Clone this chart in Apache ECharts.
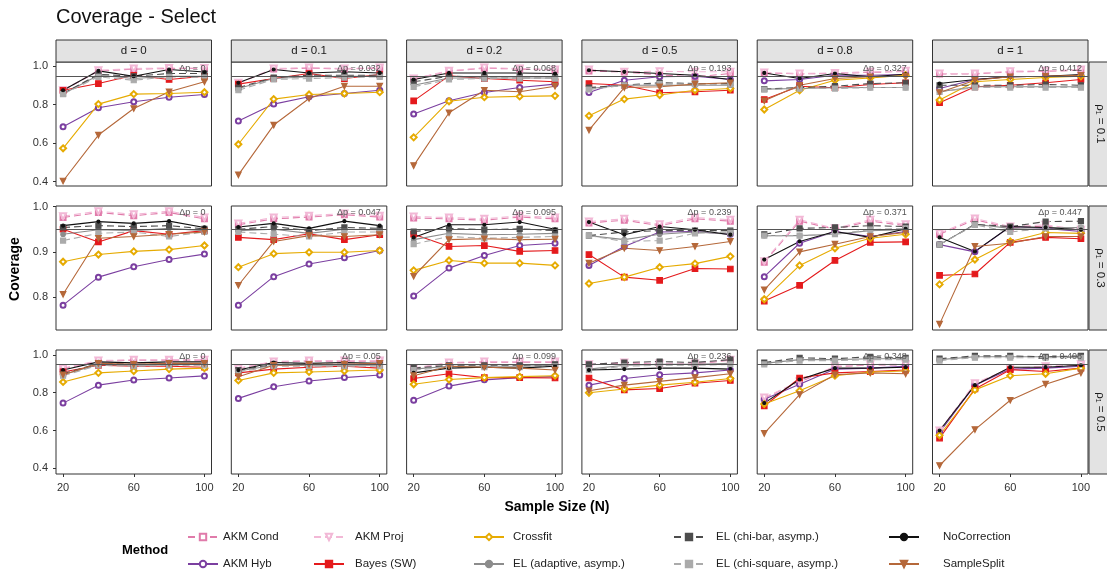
<!DOCTYPE html>
<html><head><meta charset="utf-8">
<script src="https://cdn.jsdelivr.net/npm/echarts@6/dist/echarts.min.js"></script>
<style>html,body{margin:0;padding:0;background:#fff}#c{width:1107px;height:575px}</style>
</head><body><div id="c"></div><script>
const sampleSizes = [20, 40, 60, 80, 100];
const xTicks = [20, 60, 100];
const dLabels = ['d = 0', 'd = 0.1', 'd = 0.2', 'd = 0.5', 'd = 0.8', 'd = 1'];
const rhoLabels = ['ρ₁ = 0.1', 'ρ₁ = 0.3', 'ρ₁ = 0.5'];
const yTicks = [[0.4, 0.6, 0.8, 1.0], [0.8, 0.9, 1.0], [0.4, 0.6, 0.8, 1.0]];
const yRange = [[0.377, 1.022], [0.727, 1.0015], [0.370, 1.026]];
const deltaP = [
  ['0', '0.032', '0.068', '0.193', '0.327', '0.412'],
  ['0', '0.047', '0.095', '0.239', '0.371', '0.447'],
  ['0', '0.05', '0.099', '0.236', '0.348', '0.408']
];
const targetCoverage = 0.95;

// Each method: 18 panels (row-major: rho rows x d columns), 5 values at N = 20..100
const akmCond = [
  [0.875,0.975,0.985,0.988,0.988],[0.912,0.985,0.99,0.986,0.99],[0.934,0.974,0.99,0.985,0.98],[0.975,0.97,0.955,0.945,0.962],[0.965,0.96,0.963,0.968,0.973],[0.96,0.96,0.971,0.973,0.98],
  [0.976,0.987,0.98,0.987,0.973],[0.96,0.973,0.977,0.982,0.977],[0.975,0.973,0.97,0.977,0.973],[0.964,0.97,0.958,0.973,0.968],[0.877,0.968,0.95,0.968,0.958],[0.939,0.971,0.953,0.957,0.947],
  [0.928,0.967,0.972,0.972,0.972],[0.928,0.962,0.967,0.967,0.967],[0.928,0.957,0.962,0.962,0.962],[0.947,0.957,0.952,0.952,0.972],[0.772,0.857,0.937,0.947,0.947],[0.598,0.847,0.927,0.937,0.947]
];
const akmHyb = [
  [0.685,0.784,0.815,0.839,0.853],[0.715,0.803,0.841,0.858,0.875],[0.751,0.820,0.863,0.889,0.907],[0.863,0.927,0.945,0.948,0.931],[0.924,0.931,0.953,0.953,0.957],[0.884,0.931,0.945,0.948,0.953],
  [0.782,0.844,0.867,0.883,0.895],[0.782,0.845,0.873,0.887,0.903],[0.802,0.864,0.892,0.914,0.919],[0.870,0.912,0.944,0.945,0.939],[0.845,0.919,0.945,0.934,0.945],[0.916,0.900,0.956,0.952,0.945],
  [0.745,0.840,0.867,0.878,0.889],[0.770,0.832,0.862,0.880,0.894],[0.760,0.835,0.868,0.880,0.885],[0.840,0.875,0.895,0.905,0.920],[0.765,0.845,0.925,0.930,0.940],[0.590,0.840,0.925,0.930,0.940]
];
const akmProj = [
  [0.875,0.979,0.988,0.991,0.991],[0.914,0.988,0.993,0.988,0.993],[0.936,0.976,0.993,0.988,0.983],[0.983,0.971,0.974,0.971,0.971],[0.967,0.962,0.965,0.971,0.976],[0.962,0.962,0.974,0.976,0.983],
  [0.979,0.990,0.983,0.990,0.976],[0.963,0.976,0.980,0.985,0.980],[0.978,0.976,0.973,0.980,0.976],[0.967,0.973,0.961,0.976,0.971],[0.879,0.971,0.952,0.971,0.961],[0.941,0.974,0.956,0.960,0.949],
  [0.930,0.970,0.975,0.975,0.975],[0.930,0.965,0.970,0.970,0.970],[0.930,0.960,0.965,0.965,0.965],[0.950,0.960,0.955,0.955,0.975],[0.775,0.860,0.940,0.950,0.950],[0.600,0.850,0.930,0.940,0.950]
];
const bayesSW = [
  [0.875,0.910,0.953,0.931,0.948],[0.907,0.936,0.962,0.936,0.957],[0.820,0.950,0.936,0.927,0.919],[0.910,0.901,0.862,0.867,0.875],[0.827,0.896,0.888,0.905,0.914],[0.810,0.893,0.901,0.914,0.931],
  [0.950,0.922,0.947,0.939,0.947],[0.932,0.927,0.940,0.927,0.938],[0.939,0.912,0.914,0.901,0.903],[0.894,0.844,0.837,0.863,0.862],[0.791,0.826,0.881,0.921,0.922],[0.848,0.851,0.921,0.932,0.929],
  [0.910,0.945,0.940,0.940,0.935],[0.905,0.925,0.935,0.940,0.930],[0.875,0.900,0.880,0.880,0.878],[0.878,0.815,0.822,0.850,0.865],[0.730,0.878,0.905,0.912,0.920],[0.560,0.820,0.922,0.912,0.930]
];
const crossfit = [
  [0.573,0.803,0.855,0.858,0.865],[0.594,0.829,0.853,0.858,0.865],[0.630,0.818,0.839,0.843,0.846],[0.742,0.829,0.850,0.875,0.884],[0.775,0.875,0.927,0.939,0.953],[0.824,0.919,0.931,0.941,0.948],
  [0.878,0.894,0.901,0.905,0.914],[0.866,0.896,0.899,0.899,0.903],[0.859,0.881,0.875,0.875,0.870],[0.830,0.844,0.866,0.874,0.890],[0.795,0.870,0.908,0.930,0.939],[0.828,0.883,0.923,0.943,0.941],
  [0.857,0.905,0.915,0.925,0.930],[0.865,0.905,0.910,0.915,0.920],[0.845,0.870,0.880,0.885,0.890],[0.800,0.820,0.840,0.855,0.875],[0.740,0.810,0.890,0.910,0.915],[0.575,0.815,0.890,0.900,0.930]
];
const elAdaptive = [
  [0.855,0.953,0.936,0.948,0.948],[0.884,0.936,0.945,0.948,0.948],[0.901,0.939,0.939,0.939,0.939],[0.884,0.901,0.901,0.901,0.901],[0.881,0.884,0.888,0.889,0.889],[0.867,0.893,0.893,0.893,0.893],
  [0.939,0.949,0.947,0.952,0.947],[0.947,0.950,0.941,0.950,0.949],[0.927,0.941,0.938,0.939,0.941],[0.936,0.927,0.939,0.944,0.939],[0.936,0.936,0.939,0.947,0.949],[0.916,0.961,0.952,0.954,0.954],
  [0.895,0.950,0.945,0.948,0.950],[0.915,0.945,0.945,0.945,0.945],[0.925,0.940,0.940,0.940,0.945],[0.925,0.945,0.950,0.950,0.955],[0.955,0.975,0.975,0.980,0.980],[0.975,0.990,0.990,0.990,0.990]
];
const elChiBar = [
  [0.858,0.958,0.948,0.962,0.962],[0.889,0.941,0.953,0.953,0.953],[0.919,0.948,0.945,0.945,0.945],[0.889,0.901,0.914,0.910,0.910],[0.881,0.889,0.896,0.910,0.914],[0.901,0.901,0.901,0.905,0.901],
  [0.954,0.958,0.956,0.958,0.951],[0.950,0.956,0.947,0.954,0.952],[0.945,0.952,0.949,0.951,0.947],[0.936,0.944,0.947,0.947,0.947],[0.939,0.952,0.954,0.958,0.956],[0.916,0.961,0.956,0.967,0.968],
  [0.900,0.955,0.950,0.950,0.952],[0.920,0.950,0.950,0.950,0.950],[0.930,0.945,0.945,0.945,0.950],[0.950,0.960,0.965,0.960,0.975],[0.960,0.985,0.980,0.990,0.985],[0.980,0.995,0.995,0.990,0.995]
];
const elChiSq = [
  [0.855,0.945,0.927,0.945,0.941],[0.875,0.931,0.936,0.941,0.945],[0.893,0.931,0.936,0.936,0.936],[0.879,0.901,0.907,0.907,0.905],[0.879,0.884,0.884,0.889,0.889],[0.867,0.889,0.889,0.889,0.889],
  [0.925,0.941,0.944,0.934,0.944],[0.944,0.939,0.934,0.944,0.944],[0.917,0.934,0.930,0.932,0.934],[0.936,0.923,0.925,0.941,0.944],[0.936,0.936,0.939,0.949,0.952],[0.916,0.960,0.944,0.952,0.952],
  [0.890,0.945,0.940,0.945,0.945],[0.910,0.940,0.940,0.940,0.940],[0.920,0.935,0.935,0.935,0.940],[0.920,0.940,0.945,0.945,0.950],[0.950,0.970,0.970,0.975,0.975],[0.970,0.985,0.985,0.985,0.985]
];
const noCorrection = [
  [0.875,0.976,0.948,0.983,0.970],[0.914,0.983,0.965,0.971,0.965],[0.931,0.965,0.965,0.965,0.962],[0.979,0.971,0.962,0.953,0.931],[0.965,0.936,0.962,0.945,0.958],[0.910,0.931,0.945,0.948,0.957],
  [0.958,0.967,0.963,0.968,0.954],[0.955,0.963,0.952,0.968,0.958],[0.932,0.960,0.960,0.966,0.950],[0.966,0.938,0.956,0.949,0.938],[0.883,0.923,0.945,0.932,0.951],[0.932,0.901,0.956,0.954,0.949],
  [0.920,0.963,0.958,0.963,0.963],[0.920,0.960,0.955,0.960,0.955],[0.905,0.930,0.935,0.930,0.940],[0.920,0.925,0.930,0.930,0.925],[0.745,0.870,0.930,0.930,0.935],[0.600,0.840,0.935,0.935,0.945]
];
const sampleSplit = [
  [0.403,0.642,0.780,0.867,0.919],[0.435,0.694,0.832,0.896,0.896],[0.483,0.758,0.875,0.867,0.896],[0.668,0.889,0.893,0.907,0.914],[0.820,0.901,0.936,0.945,0.948],[0.863,0.927,0.945,0.948,0.953],
  [0.806,0.930,0.934,0.939,0.944],[0.826,0.923,0.936,0.934,0.938],[0.846,0.927,0.929,0.927,0.928],[0.875,0.908,0.903,0.912,0.923],[0.816,0.900,0.917,0.934,0.943],[0.740,0.912,0.919,0.934,0.934],
  [0.895,0.955,0.950,0.955,0.955],[0.885,0.945,0.950,0.950,0.955],[0.890,0.940,0.935,0.930,0.920],[0.810,0.840,0.860,0.880,0.900],[0.585,0.790,0.895,0.905,0.900],[0.415,0.605,0.760,0.845,0.905]
];

const FONT = '"Liberation Sans", Arial, sans-serif';
const methods = [
  {name:'AKM Cond', data:akmCond, color:'#E07BAA', dash:true, symbol:'emptyRect', size:5},
  {name:'AKM Hyb', data:akmHyb, color:'#7B3FA0', dash:false, symbol:'emptyCircle', size:5},
  {name:'AKM Proj', data:akmProj, color:'#F2B8D6', dash:true, symbol:'emptyTriangle', size:6, rot:180},
  {name:'Bayes (SW)', data:bayesSW, color:'#E41A1C', dash:false, symbol:'rect', size:5.5},
  {name:'Crossfit', data:crossfit, color:'#E6AB02', dash:false, symbol:'emptyDiamond', size:6},
  {name:'EL (adaptive, asymp.)', data:elAdaptive, color:'#8C8C8C', dash:false, symbol:'circle', size:4.5},
  {name:'EL (chi-bar, asymp.)', data:elChiBar, color:'#4D4D4D', dash:true, symbol:'rect', size:5},
  {name:'EL (chi-square, asymp.)', data:elChiSq, color:'#ABABAB', dash:true, symbol:'rect', size:5},
  {name:'NoCorrection', data:noCorrection, color:'#111111', dash:false, symbol:'circle', size:3},
  {name:'SampleSplit', data:sampleSplit, color:'#B5683A', dash:false, symbol:'triangle', size:5.5, rot:180}
];

const GL = 56, GW = 155.5, GP = 175.3, GT = 62, GH = 124, RP = 144;
const grids = [], xAxes = [], yAxes = [], series = [], graphics = [];
for (let r = 0; r < 3; r++) {
  for (let c = 0; c < 6; c++) {
    const p = r * 6 + c;
    const left = GL + c * GP, top = GT + r * RP;
    grids.push({left, top, width: GW, height: GH, show: true, borderColor: '#333', borderWidth: 1, backgroundColor: 'transparent'});
    xAxes.push({type:'value', gridIndex:p, min:16, max:104, splitLine:{show:false}, axisLine:{show:false},
      axisTick:{show:r===2, length:3, customValues:xTicks, lineStyle:{color:'#333'}},
      axisLabel:{show:r===2, customValues:xTicks, margin:8, fontSize:11, color:'#333', fontFamily:FONT}});
    yAxes.push({type:'value', gridIndex:p, min:yRange[r][0], max:yRange[r][1], splitLine:{show:false}, axisLine:{show:false},
      axisTick:{show:c===0, length:3, customValues:yTicks[r], lineStyle:{color:'#333'}},
      axisLabel:{show:c===0, customValues:yTicks[r], margin:8, fontSize:11, color:'#333', fontFamily:FONT,
        formatter: v => v.toFixed(1)}});
    methods.forEach((m, mi) => {
      const s = {type:'line', name:m.name, xAxisIndex:p, yAxisIndex:p, silent:true, animation:false,
        data: sampleSizes.map((x, i) => [x, m.data[p][i]]),
        symbol:m.symbol, symbolSize:m.size, symbolRotate:m.rot || 0, showSymbol:true,
        lineStyle:{color:m.color, width:1.1, type: m.dash ? [7, 4] : 'solid'},
        itemStyle:{color:m.color, borderColor:m.color, borderWidth:1.2}};
      if (mi === 0) {
        s.markLine = {silent:true, symbol:'none', animation:false, label:{show:false},
          lineStyle:{color:'#555', width:1, type:'solid'}, data:[{yAxis:targetCoverage}]};
      }
      series.push(s);
    });
    graphics.push({type:'text', z:50, style:{text:'Δp = ' + deltaP[r][c], x:left + GW - 6, y:top + 7,
      align:'right', verticalAlign:'middle', fill:'#555', fontSize:9, fontFamily:FONT}});
  }
}
for (let c = 0; c < 6; c++) {
  const left = GL + c * GP;
  graphics.push({type:'rect', shape:{x:left, y:40, width:GW, height:22}, style:{fill:'#E3E3E3', stroke:'#333', lineWidth:1}});
  graphics.push({type:'text', style:{text:dLabels[c], x:left + GW / 2, y:51, align:'center', verticalAlign:'middle', fill:'#1a1a1a', fontSize:11.5, fontFamily:FONT}});
}
for (let r = 0; r < 3; r++) {
  const top = GT + r * RP;
  graphics.push({type:'rect', shape:{x:1089, y:top, width:24, height:GH}, style:{fill:'#E3E3E3', stroke:'#333', lineWidth:1}});
  graphics.push({type:'text', x:1100, y:top + GH / 2, rotation:-Math.PI / 2, style:{text:rhoLabels[r], x:0, y:0, align:'center', verticalAlign:'middle', fill:'#1a1a1a', fontSize:11.5, fontFamily:FONT}});
}
graphics.push({type:'text', style:{text:'Sample Size (N)', x:557, y:507, align:'center', verticalAlign:'middle', fill:'#000', fontSize:14, fontWeight:'bold', fontFamily:FONT}});
graphics.push({type:'text', x:15, y:269, rotation:Math.PI / 2, style:{text:'Coverage', x:0, y:0, align:'center', verticalAlign:'middle', fill:'#000', fontSize:14, fontWeight:'bold', fontFamily:FONT}});
graphics.push({type:'text', style:{text:'Method', x:122, y:550, align:'left', verticalAlign:'middle', fill:'#000', fontSize:13, fontWeight:'bold', fontFamily:FONT}});

const legendLefts = [187, 313, 473, 673, 888];
const legendTextPad = [0, 6, 4, 7, 19];
const legendRows = [
  ['AKM Cond', 'AKM Proj', 'Crossfit', 'EL (chi-bar, asymp.)', 'NoCorrection'],
  ['AKM Hyb', 'Bayes (SW)', 'EL (adaptive, asymp.)', 'EL (chi-square, asymp.)', 'SampleSplit']
];
const legends = [];
legendRows.forEach((row, ri) => row.forEach((nm, ci) => {
  legends.push({data:[nm], left:legendLefts[ci], top: ri === 0 ? 531 : 558, padding:0, itemWidth:30, itemHeight:8,
    selectedMode:false, textStyle:{fontSize:11.5, color:'#222', fontFamily:FONT, padding:[0, 0, 0, legendTextPad[ci]]}});
}));

const chart = echarts.init(document.getElementById('c'), null, {renderer:'canvas'});
chart.setOption({
  backgroundColor:'#fff', animation:false,
  title:{text:'Coverage - Select', left:56, top:7, padding:0, textStyle:{fontSize:20, fontWeight:'normal', color:'#111', fontFamily:FONT}},
  grid:grids, xAxis:xAxes, yAxis:yAxes, series, legend:legends, graphic:graphics
});
</script></body></html>
